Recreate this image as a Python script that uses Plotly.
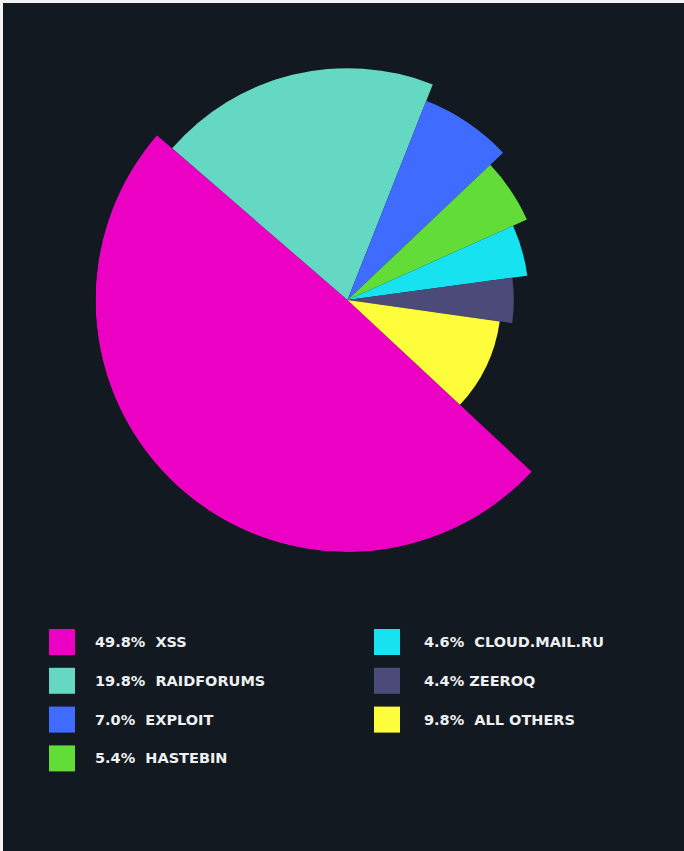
import plotly.graph_objects as go

# ---- data ----
names = ["XSS", "RAIDFORUMS", "EXPLOIT", "HASTEBIN", "CLOUD.MAIL.RU", "ZEEROQ", "ALL OTHERS"]
percents = [49.8, 19.8, 7.0, 5.4, 4.6, 4.4, 9.8]
radii = [100, 92, 85, 78, 72, 66, 61]          # relative slice radius
colors = ["#ec00c4", "#64d8c3", "#3f6bfe", "#62dd37", "#17e2ef", "#4b4a78", "#fefd3c"]

# ---- layout constants ----
W, H = 684, 851
BG = "#121920"
CX, CY, R = 347.5, 300, 252          # pie centre / max radius in px
START_DEG = 133                      # clockwise from top, where first slice starts

scale = 360.0 / sum(percents)
thetas, widths = [], []
acc = START_DEG
for p in percents:
    w = p * scale
    thetas.append(acc + w / 2)
    widths.append(w)
    acc += w

fig = go.Figure()
for n, p, r, t, w, c in zip(names, percents, radii, thetas, widths, colors):
    fig.add_trace(go.Barpolar(
        r=[r], theta=[t], width=[w], name=n,
        marker=dict(color=c, line=dict(width=0)),
        showlegend=False, hoverinfo="name",
    ))

fig.update_layout(
    width=W, height=H,
    margin=dict(l=0, r=0, t=0, b=0),
    paper_bgcolor=BG, plot_bgcolor=BG,
    polar=dict(
        domain=dict(x=[(CX - R) / W, (CX + R) / W], y=[1 - (CY + R) / H, 1 - (CY - R) / H]),
        bgcolor="rgba(0,0,0,0)",
        bargap=0, hole=0,
        radialaxis=dict(range=[0, 100], visible=False, showgrid=False),
        angularaxis=dict(visible=False, showgrid=False, direction="clockwise", rotation=90),
    ),
)

# ---- custom legend ----
shapes = [
    dict(type="rect", xref="paper", yref="paper", x0=0, x1=3 / W, y0=0, y1=1,
         fillcolor="#f2f3f5", line=dict(width=0), layer="above"),
    dict(type="rect", xref="paper", yref="paper", x0=0, x1=1, y0=1 - 3 / H, y1=1,
         fillcolor="#f2f3f5", line=dict(width=0), layer="above"),
]
annotations = []
col_sq_x = [49, 374]
col_tx_x = [93, 422]
row_y0, row_dy, sq = 642, 38.8, 26
for i, (n, p, c) in enumerate(zip(names, percents, colors)):
    col = 0 if i < 4 else 1
    row = i if i < 4 else i - 4
    yc = row_y0 + row * row_dy
    x0 = col_sq_x[col]
    shapes.append(dict(type="rect", xref="paper", yref="paper",
                       x0=x0 / W, x1=(x0 + sq) / W,
                       y0=1 - (yc + sq / 2) / H, y1=1 - (yc - sq / 2) / H,
                       fillcolor=c, line=dict(width=0)))
    gap = "\u00a0" if n == "ZEEROQ" else "\u00a0\u00a0"
    annotations.append(dict(
        xref="paper", yref="paper", x=col_tx_x[col] / W, y=1 - yc / H,
        xanchor="left", yanchor="middle", showarrow=False,
        text=f"{p:.1f}%{gap}{n}",
        font=dict(family="DejaVu Sans", size=14.5, color="#eef0f2", weight="bold"),
    ))

fig.update_layout(shapes=shapes, annotations=annotations)
fig.write_html("out.html")
